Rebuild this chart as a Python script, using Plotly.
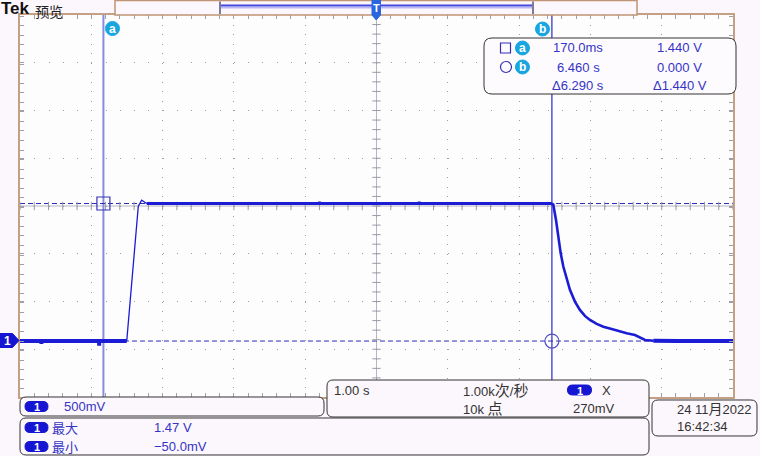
import numpy as np
import plotly.graph_objects as go

# ---------------- data ----------------
t_low = [-1.0, -0.70, -0.70, -0.70, -0.29, -0.29, -0.29, 0.11, 0.11, 0.11, 0.497]
v_low = [0.0, 0.0, -0.03, 0.0, 0.0, -0.02, 0.0, 0.0, -0.05, 0.0, 0.0]

t_rise = [0.497, 0.58, 0.659, 0.707, 0.777]
v_rise = [0.0, 0.72, 1.411, 1.474, 1.44]

t_high = [0.777, 1.5, 2.5, 3.2, 3.2, 3.2, 4.6, 4.6, 4.6, 5.3, 5.3, 5.3, 6.0, 6.46]
v_high = [1.44, 1.44, 1.44, 1.44, 1.46, 1.44, 1.44, 1.46, 1.44, 1.44, 1.455, 1.44, 1.44, 1.44]

t_decay = [6.46, 6.479, 6.517, 6.549, 6.583, 6.620, 6.667, 6.713, 6.783, 6.853,
           6.923, 6.994, 7.088, 7.181, 7.298, 7.415, 7.509, 7.625, 7.696, 7.766, 7.883]
v_decay = [1.44, 1.429, 1.271, 1.079, 0.921, 0.780, 0.641, 0.536, 0.413, 0.326,
           0.263, 0.221, 0.179, 0.150, 0.126, 0.098, 0.081, 0.063, 0.039, 0.011, 0.003]

t_tail = [7.883, 8.21, 8.21, 8.21, 8.61, 8.61, 8.61, 9.0]
v_tail = [0.003, 0.0, -0.02, 0.0, 0.0, -0.015, 0.0, 0.0]

cursor_a_t, cursor_a_v = 0.170, 1.440
cursor_b_t, cursor_b_v = 6.460, 0.000

time_range = [-1.0, 9.0]          # 1.00 s/div, 10 div
volt_range = [-0.586, 3.414]      # 500 mV/div, 8 div
volt_center = 1.414

scale_label = "500mV"
timebase_label = "1.00 s"
rate_label = "1.00k次/秒"
points_label = "10k 点"
trig_label = "270mV"
meas_names = ["最大", "最小"]
meas_values = ["1.47 V", "\u221250.0mV"]
date_label = "24 11月2022"
time_label = "16:42:34"

# ---------------- layout helpers ----------------
W, H = 760, 456
ML, MR, MT, MB = 20, 27, 15, 59
PW = W - ML - MR
PH = H - MT - MB


def px(x):
    return (x - ML) / PW


def py(y):
    return (H - MB - y) / PH


def rrect(x0, y0, x1, y1, r):
    def P(x, y):
        return f"{px(x):.5f},{py(y):.5f}"
    return (f"M{P(x0 + r, y0)} L{P(x1 - r, y0)} Q{P(x1, y0)} {P(x1, y0 + r)} "
            f"L{P(x1, y1 - r)} Q{P(x1, y1)} {P(x1 - r, y1)} L{P(x0 + r, y1)} "
            f"Q{P(x0, y1)} {P(x0, y1 - r)} L{P(x0, y0 + r)} Q{P(x0, y0)} {P(x0 + r, y0)} Z")


def poly(pts):
    s = "M" + " L".join(f"{px(x):.5f},{py(y):.5f}" for x, y in pts) + " Z"
    return s


def big_cjk(s, size=15):
    out = ""
    for ch in s:
        if ord(ch) > 0x2E80:
            out += f"<span style='font-size:{size}px'>{ch}</span>"
        else:
            out += ch
    return out


FONT = "Liberation Sans, Noto Sans CJK SC, sans-serif"
CJK = "Noto Sans CJK SC, Liberation Sans, sans-serif"
TRACE = "#1c1cd4"
TXT_BLUE = "#3434c6"
DARK = "#333333"
CYAN = "#19a6e0"
PILL = "#1515d2"
BG = "#fcf7fc"

shapes = []
annotations = []


def text(x, y, s, size=13, color=DARK, anchor="left", family=FONT):
    annotations.append(dict(xref="paper", yref="paper", x=px(x), y=py(y), text=s,
                            showarrow=False, xanchor=anchor, yanchor="middle", borderpad=0,
                            align="left", font=dict(family=family, size=size, color=color)))


def box(x0, y0, x1, y1, r=6, fill=BG, line=DARK):
    shapes.append(dict(type="path", xref="paper", yref="paper", path=rrect(x0, y0, x1, y1, r),
                       fillcolor=fill, line=dict(color=line, width=1), layer="above"))


def pill(cx, cy, label="1", w=23, h=10):
    shapes.append(dict(type="path", xref="paper", yref="paper",
                       path=rrect(cx - w / 2, cy - h / 2, cx + w / 2, cy + h / 2, h / 2 - 0.01),
                       fillcolor=PILL, line=dict(color=PILL, width=1), layer="above"))
    text(cx, cy + 0.5, f"<b>{label}</b>", size=11, color="white", anchor="center")


def circ(cx, cy, r, fill=None, line=CYAN, width=1):
    shapes.append(dict(type="circle", xref="paper", yref="paper",
                       x0=px(cx - r), x1=px(cx + r), y0=py(cy + r), y1=py(cy - r),
                       fillcolor=fill if fill else "rgba(0,0,0,0)",
                       line=dict(color=line, width=width), layer="above"))


def cursor_badge(cx, cy, letter):
    circ(cx, cy, 7, fill=CYAN, line=CYAN)
    text(cx, cy, f"<b>{letter}</b>", size=12, color="white", anchor="center")


# ---------------- figure ----------------
fig = go.Figure()

# graticule centre cross tick marks
xt = np.arange(time_range[0], time_range[1] + 1e-9, 0.2)
yt = np.arange(volt_range[0], volt_range[1] + 1e-9, 0.1)
fig.add_trace(go.Scatter(x=xt, y=[volt_center] * len(xt), mode="markers",
                         marker=dict(symbol="line-ns", size=6, line=dict(color="#9a9aa6", width=1)),
                         hoverinfo="skip"))
fig.add_trace(go.Scatter(x=[4.0] * len(yt), y=yt, mode="markers",
                         marker=dict(symbol="line-ew", size=6, line=dict(color="#9a9aa6", width=1)),
                         hoverinfo="skip"))

# waveform
for tt, vv, w in [(t_low, v_low, 4), (t_rise, v_rise, 1.3), (t_high, v_high, 3),
                  (t_decay, v_decay, 2.6), (t_tail, v_tail, 4)]:
    fig.add_trace(go.Scatter(x=tt, y=vv, mode="lines", line=dict(color=TRACE, width=w),
                             hoverinfo="skip"))

# cursor intersection markers
fig.add_trace(go.Scatter(x=[cursor_a_t], y=[cursor_a_v], mode="markers",
                         marker=dict(symbol="square-open", size=13, color="#3434b8",
                                     line=dict(width=1.2)), hoverinfo="skip"))
fig.add_trace(go.Scatter(x=[cursor_b_t], y=[cursor_b_v], mode="markers",
                         marker=dict(symbol="circle-open", size=14, color="#5050c0",
                                     line=dict(width=1.2)), hoverinfo="skip"))

# centre cross solid lines
shapes.append(dict(type="line", xref="x", yref="paper", x0=4.0, x1=4.0, y0=0, y1=1,
                   line=dict(color="#b6b6c2", width=1), layer="between"))
shapes.append(dict(type="line", xref="paper", yref="y", x0=0, x1=1, y0=volt_center, y1=volt_center,
                   line=dict(color="#b6b6c2", width=1), layer="between"))
# cursors
shapes.append(dict(type="line", xref="x", yref="paper", x0=cursor_a_t, x1=cursor_a_t, y0=0, y1=1,
                   line=dict(color="#8a8ade", width=2), layer="between"))
shapes.append(dict(type="line", xref="x", yref="paper", x0=cursor_b_t, x1=cursor_b_t, y0=0, y1=1,
                   line=dict(color="#2a2ac8", width=1.2), layer="between"))
for v in (cursor_a_v, cursor_b_v):
    shapes.append(dict(type="line", xref="paper", yref="y", x0=0, x1=1, y0=v, y1=v,
                       line=dict(color="#2c2cbc", width=1, dash="5px,3px"), layer="between"))

# top record-view bar
shapes.append(dict(type="rect", xref="paper", yref="paper", x0=px(115), x1=px(637), y0=py(15), y1=py(0.5),
                   fillcolor=BG, line=dict(color="#c09474", width=1.5), layer="above"))
shapes.append(dict(type="rect", xref="paper", yref="paper", x0=px(220), x1=px(533), y0=py(8.5), y1=py(4),
                   fillcolor="#b8b8f4", line=dict(width=0), layer="above"))
shapes.append(dict(type="line", xref="paper", yref="paper", x0=px(220), x1=px(533), y0=py(5.5), y1=py(5.5),
                   line=dict(color="#4848dc", width=1.5), layer="above"))
for xv in (220, 533):
    shapes.append(dict(type="line", xref="paper", yref="paper", x0=px(xv), x1=px(xv), y0=py(14), y1=py(1.5),
                       line=dict(color="#7c7c96", width=2), layer="above"))
# trigger position marker
shapes.append(dict(type="path", xref="paper", yref="paper",
                   path=poly([(372, 0), (380.5, 0), (380.5, 15), (376.2, 20), (372, 15)]),
                   fillcolor="#2a66e0", line=dict(color="#2a66e0", width=1), layer="above"))
text(376.3, 8, "<b>T</b>", size=11, color="white", anchor="center")

# ground marker for channel 1
shapes.append(dict(type="path", xref="paper", yref="paper",
                   path=poly([(0, 333.5), (12.5, 333.5), (19, 340.5), (12.5, 347.5), (0, 347.5)]),
                   fillcolor=PILL, line=dict(color=PILL, width=1), layer="above"))
text(7.5, 341, "<b>1</b>", size=12, color="white", anchor="center")

# Tek label
text(-0.5, 8.5, "<b>Tek</b>", size=17, color="#111111", family="Liberation Sans, sans-serif")
text(34, 10.5, "预览", size=14, color="#222222", family=CJK)

# cursor badges at top
cursor_badge(112.5, 28.5, "a")
cursor_badge(542.5, 29, "b")

# cursor readout box
box(484, 38, 736, 94, r=8, fill="#fefbfe")
shapes.append(dict(type="rect", xref="paper", yref="paper", x0=px(500.5), x1=px(510.5), y0=py(53), y1=py(43),
                   line=dict(color="#3030b0", width=1.2), layer="above"))
cursor_badge(522.5, 48, "a")
circ(506, 67, 5.5, line="#3030b0", width=1.2)
cursor_badge(522.5, 67, "b")
text(578, 48, f"{cursor_a_t * 1000:.1f}ms", color=TXT_BLUE, anchor="center")
text(679.5, 48, f"{cursor_a_v:.3f} V", color=TXT_BLUE, anchor="center")
text(578, 67, f"{cursor_b_t:.3f} s", color=TXT_BLUE, anchor="center")
text(679.5, 67, f"{cursor_b_v:.3f} V", color=TXT_BLUE, anchor="center")
text(578, 85.5, f"\u0394{cursor_b_t - cursor_a_t:.3f} s", color=TXT_BLUE, anchor="center")
text(679.5, 85.5, f"\u0394{cursor_a_v - cursor_b_v:.3f} V", color=TXT_BLUE, anchor="center")

# bottom boxes
box(20, 397, 324, 416)
pill(36.5, 406.5)
text(63, 406.5, scale_label, color=TXT_BLUE)

box(327, 380, 649, 417)
text(333, 390, timebase_label, color=DARK)
text(462, 390, big_cjk(rate_label), color=DARK)
pill(579.5, 390, w=24)
text(601, 390, "X", color=DARK)
text(462, 408, big_cjk(points_label), color=DARK)
text(572, 408, trig_label, color=DARK)

box(20, 418, 649, 455)
row_y = [427.5, 446.5]
for yy, name, val in zip(row_y, meas_names, meas_values):
    pill(36.5, yy)
    text(51, yy, name, size=13, color=TXT_BLUE, family=CJK)
    text(153, yy, val, size=13, color=TXT_BLUE)

box(652, 400, 757, 436)
text(676, 408.5, big_cjk(date_label, 14), color=DARK)
text(676, 427, time_label, color=DARK)

fig.update_layout(
    width=W, height=H,
    margin=dict(l=ML, r=MR, t=MT, b=MB, pad=0),
    paper_bgcolor=BG, plot_bgcolor="#fefdfe",
    showlegend=False,
    shapes=shapes, annotations=annotations,
    xaxis=dict(range=time_range, tick0=0, dtick=1, showgrid=True, gridcolor="#9c9ca8",
               griddash="1px,8.55px", gridwidth=1, zeroline=False, showticklabels=False,
               ticks="inside", ticklen=4, tickcolor="#a0a0aa", showline=True,
               linecolor="#c4a084", linewidth=1.5, mirror="allticks",
               minor=dict(dtick=0.2, ticks="inside", ticklen=4, tickcolor="#a0a0aa", showgrid=False),
               fixedrange=True),
    yaxis=dict(range=volt_range, tick0=0.414, dtick=0.5, showgrid=True, gridcolor="#9c9ca8",
               griddash="1px,13.26px", gridwidth=1, zeroline=False, showticklabels=False,
               ticks="inside", ticklen=4, tickcolor="#a0a0aa", showline=True,
               linecolor="#c4a084", linewidth=1.5, mirror="allticks",
               minor=dict(dtick=0.1, ticks="inside", ticklen=4, tickcolor="#a0a0aa", showgrid=False),
               fixedrange=True),
)

fig.write_html("out.html", config={"displayModeBar": False},
               post_script="document.body.style.margin='0';document.body.style.background='%s';" % BG)
